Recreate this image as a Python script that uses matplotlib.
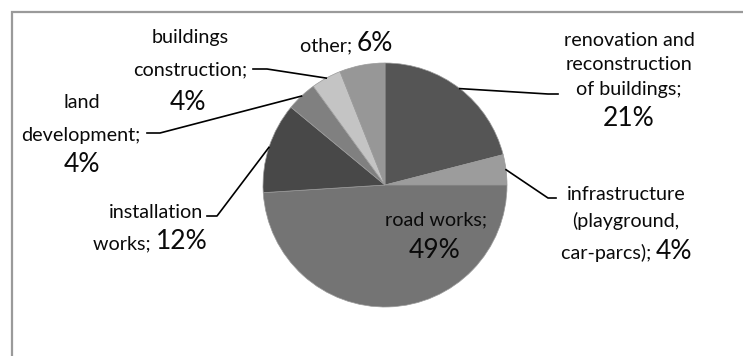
import matplotlib
matplotlib.use("Agg")
import matplotlib.pyplot as plt
import numpy as np

# ---- data ----
categories = ["renovation and reconstruction of buildings",
              "infrastructure (playground, car-parcs)",
              "road works", "installation works", "land development",
              "buildings construction", "other"]
values = [21, 4, 49, 12, 4, 4, 6]
colors = ["#555555", "#9c9c9c", "#747474", "#484848", "#808080", "#c4c4c4", "#979797"]

W, H = 743, 356
FONT = "Lato"
SMALL = 14.2
BIG = 19.0

fig = plt.figure(figsize=(W / 100, H / 100), dpi=100)
ax = fig.add_axes([0, 0, 1, 1])

def Y(y):
    return H - y

cx, cy, r = 385, 185, 122
ax.pie(values, colors=colors, startangle=90, counterclock=False,
       center=(cx, Y(cy)), radius=r, wedgeprops=dict(linewidth=0.5, edgecolor="#9a9a9a"))
ax.set_xlim(0, W)
ax.set_ylim(0, H)
ax.set_aspect("equal")
ax.axis("off")

# frame
ax.plot([12, 12, W + 5], [Y(H + 5), Y(12), Y(12)], color="#9a9a9a", lw=1.6,
        solid_joinstyle="miter", clip_on=False)

def edge_pt(i):
    cum = sum(values[:i])
    ang = np.deg2rad(90 - 360 * (cum + values[i] / 2) / sum(values))
    return cx + r * np.cos(ang), Y(cy) + r * np.sin(ang)

def txt(x, y, s, size=SMALL, ha="center", va="center"):
    ax.text(x, Y(y), s, fontsize=size, ha=ha, va=va, family=FONT, color="#0a0a0a")

def leader(i, pts):
    ex, ey = edge_pt(i)
    xs = [ex] + [p[0] for p in pts]
    ys = [ey] + [Y(p[1]) for p in pts]
    ax.plot(xs, ys, color="black", lw=1.2)

# renovation
txt(629, 40, "renovation and")
txt(629, 65, "reconstruction")
txt(629, 90, "of buildings;")
txt(629, 119, "21%", size=BIG)
leader(0, [(548, 94), (558, 94)])

# infrastructure
txt(626, 194, "infrastructure")
txt(626, 221, "(playground,")
txt(656, 259, "car-parcs); ", ha="right", va="baseline")
txt(656, 259, "4%", size=BIG, ha="left", va="baseline")
leader(1, [(548, 198), (556, 198)])

# road works
txt(436, 220, "road works;")
txt(435, 250, "49%", size=BIG)

# installation works
txt(156, 212, "installation")
txt(156, 249, "works; ", ha="right", va="baseline")
txt(156, 249, "12%", size=BIG, ha="left", va="baseline")
leader(3, [(217, 216), (207, 216)])

# land development
txt(82, 102, "land")
txt(81, 135, "development;")
txt(82, 165, "4%", size=BIG)
leader(4, [(160, 133), (147, 133)])

# buildings construction
txt(190, 38, "buildings")
txt(190, 70, "construction;")
txt(188, 102, "4%", size=BIG)
leader(5, [(267, 69), (253, 69)])

# other
txt(357, 51, "other; ", ha="right", va="baseline")
txt(357, 51, "6%", size=BIG, ha="left", va="baseline")

fig.savefig("out.png", dpi=100)
